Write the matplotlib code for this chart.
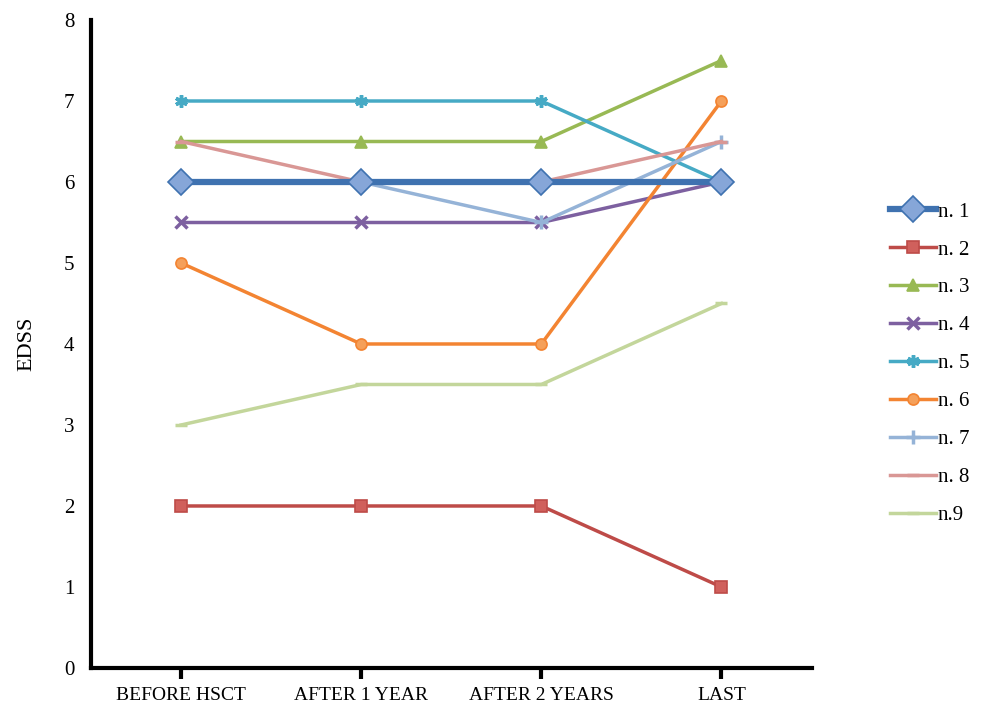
import numpy as np
import matplotlib.pyplot as plt

cats = ['BEFORE HSCT', 'AFTER 1 YEAR', 'AFTER 2 YEARS', 'LAST']
names = ['n. 1', 'n. 2', 'n. 3', 'n. 4', 'n. 5', 'n. 6', 'n. 7', 'n. 8', 'n.9']

n1 = [6, 6, 6, 6]
n2 = [2, 2, 2, 1]
n3 = [6.5, 6.5, 6.5, 7.5]
n4 = [5.5, 5.5, 5.5, 6]
n5 = [7, 7, 7, 6]
n6 = [5, 4, 4, 7]
n7 = [6, 6, 5.5, 6.5]
n8 = [6.5, 6, 6, 6.5]
n9 = [3, 3.5, 3.5, 4.5]
series = [n1, n2, n3, n4, n5, n6, n7, n8, n9]

colors = ['#3f72b0', '#be4b48', '#98b954', '#7d60a0', '#46aac5',
          '#f38432', '#95b3d7', '#d99795', '#c3d69b']
faces = ['#86a6d8', '#d0605c', '#98b954', '#7d60a0', '#46aac5',
         '#f5a05a', '#95b3d7', '#d99795', '#c3d69b']
markers = ['D', 's', '^', 'x', (6, 2, 0), 'o', '+', '_', '_']
msizes = [13, 8, 9, 8, 9, 8, 10, 8, 9]
lws = [4.5, 2.5, 2.5, 2.5, 2.5, 2.5, 2.5, 2.5, 2.5]

plt.rcParams['font.family'] = ['Liberation Serif', 'DejaVu Serif']

fig = plt.figure(figsize=(9.84, 7.07), dpi=100)
ax = fig.add_axes([0.0925, 0.0552, 0.7322, 0.9165])

x = np.arange(len(cats))
for i, y in enumerate(series):
    ax.plot(x, y, color=colors[i], lw=lws[i], marker=markers[i],
            ms=msizes[i], mfc=faces[i], mec=colors[i],
            mew=2.5 if markers[i] in ('x', '+', '_') or i == 4 else 1.2,
            label=names[i], zorder=3 + (1 if i == 0 else 0))

ax.set_xlim(-0.5, 3.5)
ax.set_ylim(0, 8)
ax.set_xticks(x)
ax.set_xticklabels(cats, fontsize=14)
ax.set_yticks(range(0, 9))
ax.tick_params(axis='y', length=0, labelsize=15, pad=12)
ax.tick_params(axis='x', length=8, width=3, direction='out', pad=6)
for s in ['top', 'right']:
    ax.spines[s].set_visible(False)
for s in ['left', 'bottom']:
    ax.spines[s].set_linewidth(3)
ax.set_ylabel('EDSS', fontsize=16, labelpad=20)

fig.legend(loc='upper left', bbox_to_anchor=(0.896, 0.726),
           bbox_transform=fig.transFigure, frameon=False,
           fontsize=15, handlelength=2.2, handletextpad=0.1, labelspacing=0.88,
           borderaxespad=0)

fig.savefig('out.png', dpi=100)
